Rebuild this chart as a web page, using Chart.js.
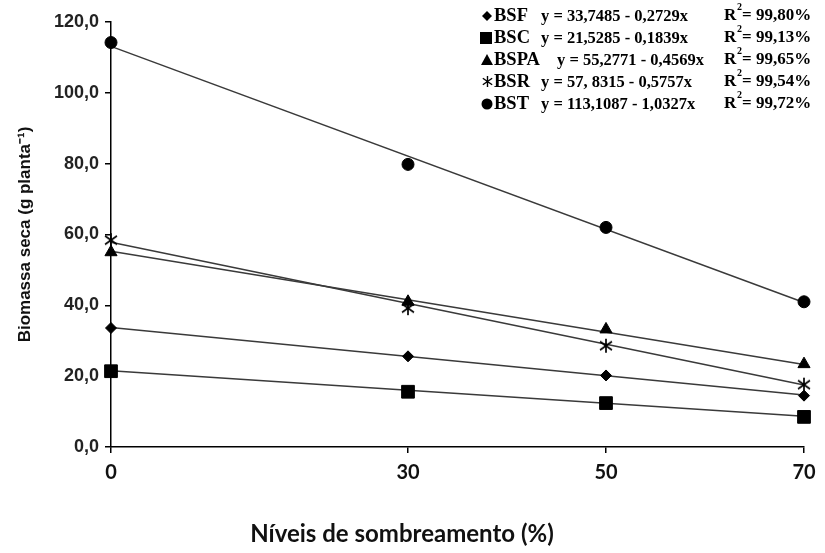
<!DOCTYPE html>
<html>
<head>
<meta charset="utf-8">
<script src="https://cdn.jsdelivr.net/npm/chart.js@4.4.1/dist/chart.umd.min.js"></script>
<style>
  html, body { margin: 0; padding: 0; background: #fff; }
</style>
</head>
<body>
<canvas id="chart" width="825" height="553"></canvas>
<script>
// shading levels (%) and the measured dry biomass for each fraction
const levels = [0, 30, 50, 70];
const xTicks = [0, 30, 50, 70];
const yTicks = [0, 20, 40, 60, 80, 100, 120];

const seriesNames = ['BSF', 'BSC', 'BSPA', 'BSR', 'BST'];
const bsf  = [33.6, 25.6, 20.2, 14.5];
const bsc  = [21.4, 15.6, 12.4, 8.5];
const bspa = [55.0, 41.0, 33.2, 23.4];
const bsr  = [58.4, 39.2, 28.6, 17.6];
const bst  = [114.2, 79.8, 62.0, 41.0];

// fitted lines (value at 0 % and at 70 %)
const fitStart = [33.7485, 21.5285, 55.2771, 57.8315, 113.1087];
const fitEnd   = [14.65, 8.66, 23.29, 17.53, 40.82];

const equations = [
  'y = 33,7485 - 0,2729x',
  'y = 21,5285 - 0,1839x',
  'y = 55,2771 - 0,4569x',
  'y = 57, 8315 - 0,5757x',
  'y = 113,1087 - 1,0327x'
];
const r2 = ['= 99,80%', '= 99,13%', '= 99,65%', '= 99,54%', '= 99,72%'];

// asterisk-like marker used for BSR
const makeStar = (size, lw) => {
    const c = document.createElement('canvas');
    c.width = size; c.height = size;
    const g = c.getContext('2d');
    const m = size / 2, r = size / 2 - 1;
    g.strokeStyle = '#000';
    g.lineWidth = lw;
    g.beginPath();
    g.moveTo(m, m - r); g.lineTo(m, m + r);
    g.moveTo(m - r * 0.85, m - r * 0.6); g.lineTo(m + r * 0.85, m + r * 0.6);
    g.moveTo(m + r * 0.85, m - r * 0.6); g.lineTo(m - r * 0.85, m + r * 0.6);
    g.stroke();
    return c;
};

const starBig = makeStar(16, 1.7);
const starSmall = makeStar(13, 1.4);

const values = [bsf, bsc, bspa, bsr, bst];
const markers = ['rectRot', 'rect', 'triangle', starBig, 'circle'];
const radii = [5.5, 9, 7, 8, 6];

const datasets = [];
values.forEach((vals, i) => {
    datasets.push({
        label: seriesNames[i] + ' fit',
        data: [{ x: levels[0], y: fitStart[i] }, { x: levels[levels.length - 1], y: fitEnd[i] }],
        showLine: true,
        borderColor: '#3a3a3a',
        borderWidth: 1.5,
        pointRadius: 0,
        clip: false,
        order: 2
    });
    datasets.push({
        label: seriesNames[i],
        data: levels.map((x, j) => ({ x: x, y: vals[j] })),
        showLine: false,
        pointStyle: markers[i],
        pointRadius: radii[i],
        backgroundColor: '#000',
        borderColor: '#000',
        borderWidth: 1,
        clip: false,
        order: 1
    });
});

const legendMarks = ['rectRot', 'rect', 'triangle', 'star', 'circle'];
const legendFont = '"Liberation Serif", "Times New Roman", serif';

const legendPlugin = {
    id: 'eqLegend',
    afterDraw(chart) {
        const ctx = chart.ctx;
        const eqX = [541, 541, 557, 541, 541];
        ctx.save();
        ctx.fillStyle = '#000';
        ctx.textBaseline = 'middle';
        ctx.textAlign = 'left';
        seriesNames.forEach((name, i) => {
            const y = 16 + i * 22;
            const mx = 487;
            // marker
            ctx.beginPath();
            if (legendMarks[i] === 'rectRot') {
                ctx.moveTo(mx, y - 5); ctx.lineTo(mx + 5, y); ctx.lineTo(mx, y + 5); ctx.lineTo(mx - 5, y);
                ctx.closePath(); ctx.fill();
            } else if (legendMarks[i] === 'rect') {
                ctx.fillRect(mx - 7, y - 6, 12, 12);
            } else if (legendMarks[i] === 'triangle') {
                ctx.moveTo(mx, y - 6); ctx.lineTo(mx + 6, y + 5); ctx.lineTo(mx - 6, y + 5);
                ctx.closePath(); ctx.fill();
            } else if (legendMarks[i] === 'star') {
                ctx.drawImage(starSmall, mx - 6, y - 7);
            } else {
                ctx.arc(mx, y, 5.5, 0, Math.PI * 2); ctx.fill();
            }
            ctx.font = 'bold 18.5px ' + legendFont;
            ctx.fillText(name, 494, y);
            ctx.font = 'bold 16.5px ' + legendFont;
            ctx.fillText(equations[i], eqX[i], y + 1);
            ctx.font = 'bold 17px ' + legendFont;
            ctx.fillText('R', 724, y);
            ctx.font = 'bold 10px ' + legendFont;
            ctx.fillText('2', 737, y - 9);
            ctx.font = 'bold 17px ' + legendFont;
            ctx.fillText(r2[i], 742, y);
        });
        ctx.restore();
    }
};

const axisFont = { family: '"Liberation Sans", Arial, sans-serif', size: 18, weight: 'bold' };
const titleFontY = { family: '"Liberation Sans", Arial, sans-serif', size: 17, weight: 'bold' };
const narrowFont = { family: 'Lato, "Liberation Sans", sans-serif', size: 20, weight: 'bold' };

new Chart(document.getElementById('chart'), {
    type: 'scatter',
    data: { datasets: datasets },
    options: {
        responsive: false,
        animation: false,
        devicePixelRatio: 1,
        layout: { padding: { top: 22, right: 21, left: 0, bottom: 0 } },
        plugins: {
            legend: { display: false },
            tooltip: { enabled: false },
            title: {
                display: true,
                position: 'bottom',
                text: 'Níveis de sombreamento (%)',
                color: '#111',
                font: { family: 'Lato, "Liberation Sans", sans-serif', size: 24, weight: 'bold' },
                padding: { top: 0, bottom: 4 }
            }
        },
        scales: {
            x: {
                type: 'linear',
                min: 0,
                max: 70,
                afterBuildTicks: (s) => { s.ticks = xTicks.map(v => ({ value: v })); },
                afterFit: (s) => { s.height = 73.2; },
                grid: { drawOnChartArea: false, drawTicks: true, tickLength: 6, color: '#000', lineWidth: 1.5 },
                border: { color: '#000', width: 1.5 },
                ticks: { color: '#111', font: narrowFont, padding: 8, maxRotation: 0, autoSkip: false }
            },
            y: {
                min: 0,
                max: 120,
                afterBuildTicks: (s) => { s.ticks = yTicks.map(v => ({ value: v })); },
                afterFit: (s) => { s.width = 111; },
                grid: { drawOnChartArea: false, drawTicks: true, tickLength: 6, color: '#000', lineWidth: 1.5 },
                border: { color: '#000', width: 1.5 },
                ticks: {
                    color: '#222',
                    font: axisFont,
                    padding: 6,
                    callback: (v) => v.toFixed(1).replace('.', ',')
                },
                title: {
                    display: true,
                    text: 'Biomassa seca (g planta⁻¹)',
                    color: '#111',
                    font: titleFontY,
                    padding: { top: 15, bottom: 0 }
                }
            }
        }
    },
    plugins: [legendPlugin]
});
</script>
</body>
</html>
